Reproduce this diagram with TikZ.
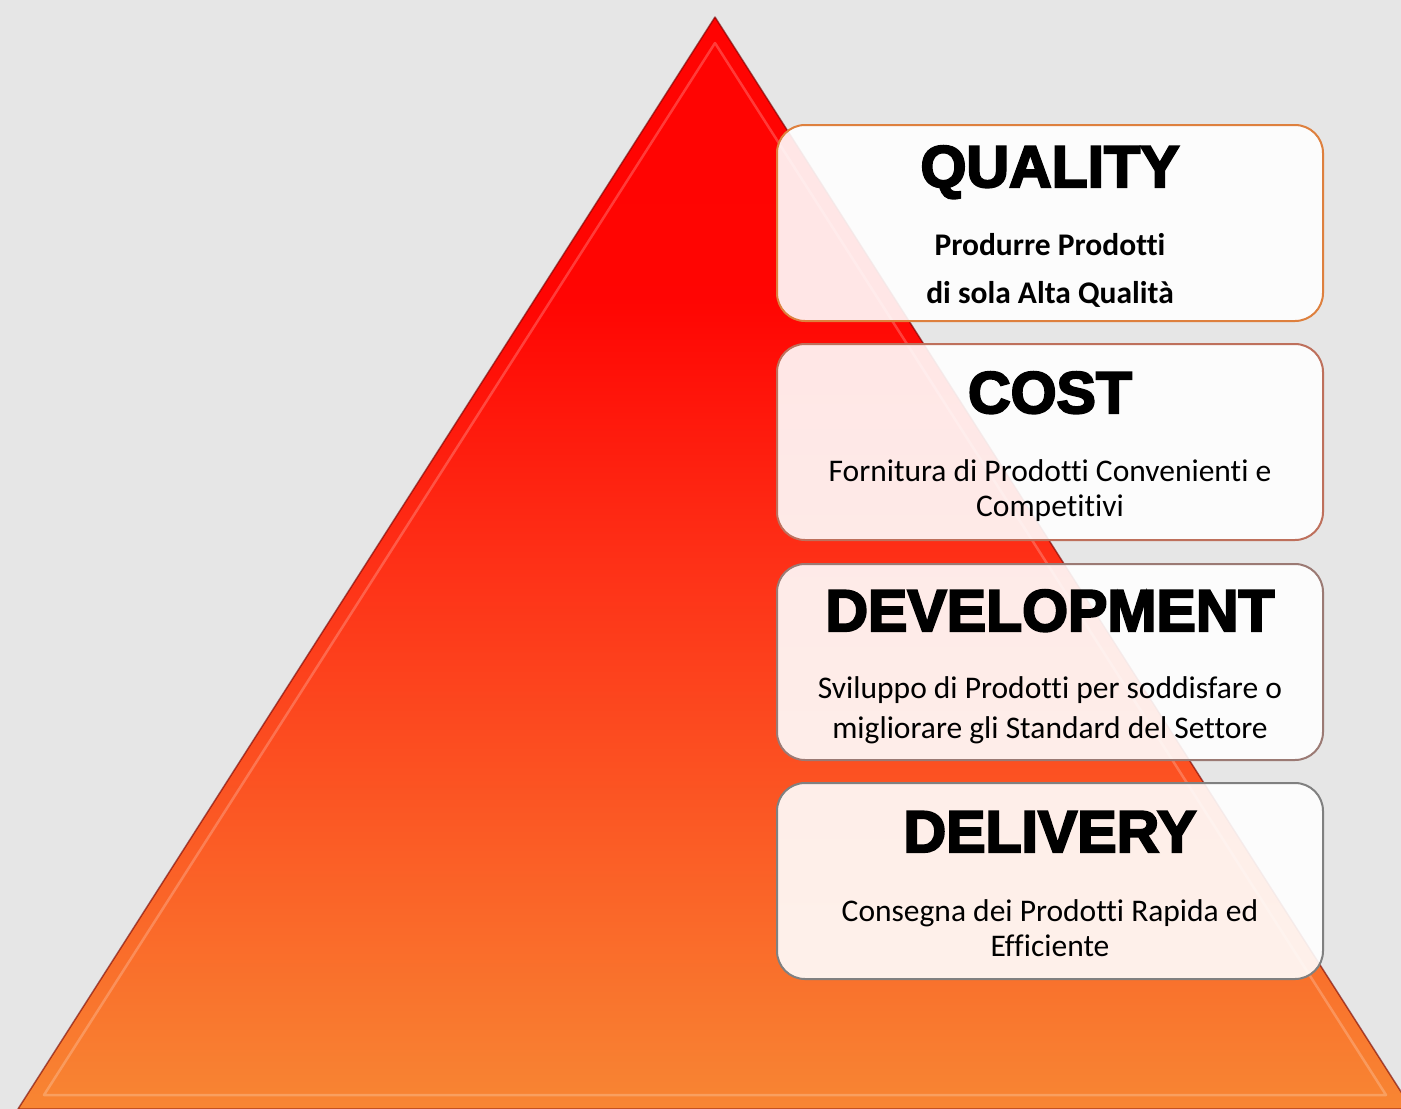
\documentclass[tikz,border=0pt]{standalone}
\usepackage{fontspec}
\setmainfont[Ligatures=NoCommon]{Carlito}
\newfontfamily\titlefont[BoldFeatures={FakeBold=3.6}]{Liberation Sans}
\usetikzlibrary{positioning}
\definecolor{bggray}{RGB}{230,230,230}
\definecolor{edgeq}{RGB}{222,128,62}
\definecolor{edgec}{RGB}{190,112,92}
\definecolor{edgedv}{RGB}{155,122,116}
\definecolor{edgedl}{RGB}{128,128,128}
% the path is fitted to 25bp--75bp of the shading
\pgfdeclareverticalshading{pyrshade}{100bp}{
  rgb(0bp)=(0.972,0.525,0.200); rgb(25bp)=(0.972,0.525,0.200);
  rgb(50bp)=(0.996,0.19,0.09); rgb(62bp)=(1,0.02,0.01); rgb(100bp)=(1,0,0)}
\tikzset{
  card/.style={draw, line width=2pt, rounded corners=28pt, fill=white, fill opacity=0.9,
    minimum width=546pt, minimum height=196pt},
  headline/.style={font=\titlefont\bfseries\fontsize{59}{59}\selectfont, anchor=base},
  blurb/.style={align=center, font=\fontsize{31.5}{35}\selectfont}
}
\begin{document}
\begin{tikzpicture}[x=1pt,y=-1pt]
    % background
    \fill[bggray] (0,0) rectangle (1401,1109);
    \useasboundingbox (0,0) rectangle (1401,1109);

    % the pyramid
    \shade[shading=pyrshade] (715,17) -- (18,1109) -- (1412,1109) -- cycle;
    \draw[red!45!black, opacity=0.6, line width=1.5pt, line join=round]
        (715,17) -- (18,1109) -- (1412,1109) -- cycle;

    % bevel
    \draw[white, opacity=0.22, line width=2.5pt, line join=round]
        (715,43) -- (44,1095) -- (1386,1095) -- cycle;

    % the four cards
    \node[card, draw=edgeq] (q) at (1050,223) {};
    \node[card, draw=edgec] (c) at (1050,442) {};
    \node[card, draw=edgedv] (dv) at (1050,662) {};
    \node[card, draw=edgedl] (dl) at (1050,881) {};

    % headlines
    \node[headline] (qt) at (1050,187) {QUALITY};
    \node[headline] (ct) at (1050,413) {COST};
    \node[headline] (dvt) at (1050,631) {DEVELOPMENT};
    \node[headline] (dlt) at (1050,852) {DELIVERY};

    % text under the headlines
    \node[blurb, font=\bfseries\fontsize{31.5}{48}\selectfont] (qb) at (1050,270)
        {Produrre Prodotti\\di sola Alta Qualità};
    \node[blurb] (cb) at (1050,491) {Fornitura di Prodotti Convenienti e\\Competitivi};
    \node[blurb, font=\fontsize{31.5}{40}\selectfont] (dvb) at (1050,710)
        {Sviluppo di Prodotti per soddisfare o\\migliorare gli Standard del Settore};
    \node[blurb] (dlb) at (1050,928) {Consegna dei Prodotti Rapida ed\\Efficiente};
\end{tikzpicture}
\end{document}
